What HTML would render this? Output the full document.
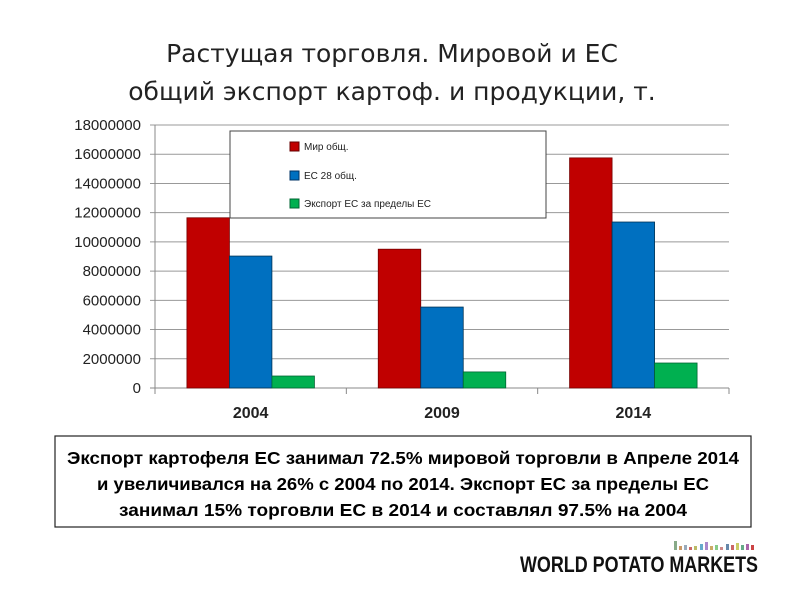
<!DOCTYPE html>
<html><head><meta charset="utf-8"><style>
body{margin:0;background:#fff;width:800px;height:600px;overflow:hidden;font-family:"Liberation Sans","DejaVu Sans",sans-serif;}
</style></head><body>
<svg width="800" height="600" xmlns="http://www.w3.org/2000/svg">
<text x="392" y="62" text-anchor="middle" font-size="25" fill="#222" font-family="DejaVu Sans, sans-serif">Растущая торговля. Мировой и ЕС</text>
<text x="392" y="100" text-anchor="middle" font-size="25" fill="#222" font-family="DejaVu Sans, sans-serif">общий экспорт картоф. и продукции, т.</text>
<g id="grid"></g><g id="bars"></g><g id="axes"></g>
<rect x="230" y="131" width="316" height="87" fill="#fff" stroke="#444" stroke-width="1"/>
<rect x="290" y="142" width="9" height="9" fill="#c00000" stroke="#600"/>
<text x="304" y="150" font-size="10" fill="#222">Мир общ.</text>
<rect x="290" y="171" width="9" height="9" fill="#0070c0" stroke="#036"/>
<text x="304" y="179" font-size="10" fill="#222">ЕС 28 общ.</text>
<rect x="290" y="199" width="9" height="9" fill="#00b050" stroke="#063"/>
<text x="304" y="207" font-size="10" fill="#222">Экспорт ЕС за пределы ЕС</text>
<rect x="55" y="436" width="696" height="91" fill="#fff" stroke="#222" stroke-width="1.2"/>
<g font-size="17.5" font-weight="bold" fill="#000" text-anchor="middle">
<text x="403" y="464" textLength="672" lengthAdjust="spacingAndGlyphs">Экспорт картофеля ЕС занимал 72.5% мировой торговли в Апреле 2014</text>
<text x="403" y="490" textLength="612" lengthAdjust="spacingAndGlyphs">и увеличивался на 26% с 2004 по 2014. Экспорт ЕС за пределы ЕС</text>
<text x="403" y="516" textLength="568" lengthAdjust="spacingAndGlyphs">занимал 15% торговли ЕС в 2014 и составлял 97.5% на 2004</text>
</g>
<g>
<rect x="674" y="541" width="3" height="9" fill="#8a8"/><rect x="679" y="546" width="3" height="4" fill="#c96"/><rect x="684" y="545" width="3" height="5" fill="#9ab"/><rect x="689" y="547" width="3" height="3" fill="#c66"/><rect x="694" y="546" width="3" height="4" fill="#bb6"/><rect x="700" y="544" width="3" height="6" fill="#6ac"/><rect x="705" y="542" width="3" height="8" fill="#a8c"/><rect x="710" y="546" width="3" height="4" fill="#ca6"/><rect x="715" y="545" width="3" height="5" fill="#8c8"/><rect x="720" y="547" width="3" height="3" fill="#c88"/><rect x="726" y="544" width="3" height="6" fill="#68a"/><rect x="731" y="545" width="3" height="5" fill="#c66"/><rect x="736" y="543" width="3" height="7" fill="#cc6"/><rect x="741" y="545" width="3" height="5" fill="#6a8"/><rect x="746" y="544" width="3" height="6" fill="#a6a"/><rect x="751" y="545" width="3" height="5" fill="#c44"/>
<text x="520" y="572" font-size="22" font-weight="bold" fill="#111" textLength="238" lengthAdjust="spacingAndGlyphs">WORLD POTATO MARKETS</text>
</g>
</svg>
<script>
const categories=["2004","2009","2014"];
const worldTotal=[11650000,9500000,15750000];
const eu28Total=[9030000,5540000,11360000];
const extraEu=[820000,1100000,1710000];
const yTicks=[0,2000000,4000000,6000000,8000000,10000000,12000000,14000000,16000000,18000000];
const NS="http://www.w3.org/2000/svg";
const X0=155,X1=729,Y0=388,Y1=125,YMAX=18000000;
const y=v=>Y0-(v/YMAX)*(Y0-Y1);
const bw=(X1-X0)/categories.length;
const x=i=>X0+i*bw;
function mk(t,a,p){const e=document.createElementNS(NS,t);for(const k in a)e.setAttribute(k,a[k]);p.appendChild(e);return e;}
const grid=document.getElementById('grid'),bars=document.getElementById('bars'),axes=document.getElementById('axes');
yTicks.forEach(v=>{
 const l=mk('line',{x1:X0-5,x2:X1,y1:y(v),y2:y(v),stroke:v===0?'#888':'#999','stroke-width':1},grid);
 
 
 const t=mk('text',{x:141,y:y(v)+5,'text-anchor':'end','font-size':15,fill:'#222'},axes);
 t.textContent=String(v);
 
 
});
const ax=mk('line',{x1:X0,x2:X0,y1:Y1,y2:Y0+5,stroke:'#888'},axes);


for(let i=0;i<=categories.length;i++){
 const tk=mk('line',{x1:x(i),x2:x(i),y1:Y0,y2:Y0+6,stroke:'#888'},axes);
 
 
}
const series=[[worldTotal,'#c00000','#700'],[eu28Total,'#0070c0','#035'],[extraEu,'#00b050','#063']];
const barW=42.5;
categories.forEach((c,i)=>{
 const start=x(i)+bw/2-barW*1.5;
 series.forEach((s,j)=>{
  const v=s[0][i];
  const r=mk('rect',{x:start+j*barW,y:y(v),width:barW,height:Y0-y(v),fill:s[1],stroke:s[2],'stroke-width':0.8},bars);
  
  
 });
 const t=mk('text',{x:x(i)+bw/2,y:418,'text-anchor':'middle','font-size':16,'font-weight':'bold',fill:'#222'},axes);
 t.textContent=c;
 
 
});
</script>
</body></html>
